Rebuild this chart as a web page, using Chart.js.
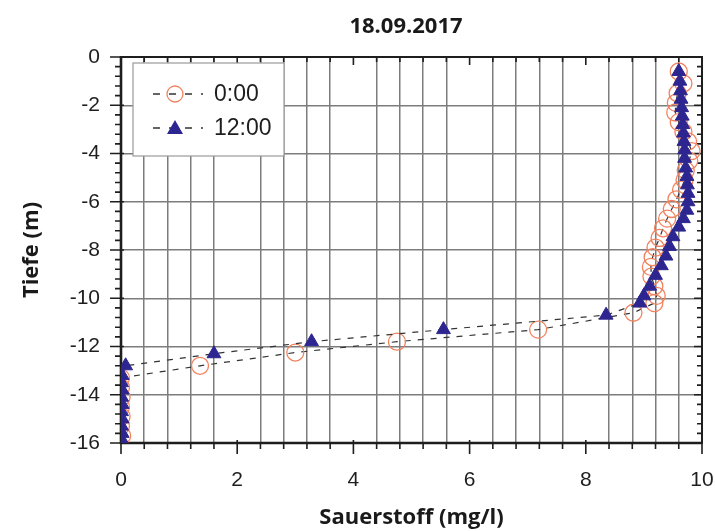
<!DOCTYPE html>
<html>
<head>
<meta charset="utf-8">
<script src="https://cdn.jsdelivr.net/npm/chart.js@4.4.1/dist/chart.umd.min.js"></script>
<style>
  html, body { margin: 0; padding: 0; background: #fff; }
  #wrap { width: 715px; height: 531px; position: relative; }
</style>
</head>
<body>
<div id="wrap"><canvas id="o2Chart" width="715" height="531"></canvas></div>
<script>
// data (depth in m, oxygen in mg/l)
const chartTitle = "18.09.2017";
const seriesNames = ["0:00", "12:00"];

const depth0000 = [-0.6, -1.1, -1.5, -1.9, -2.3, -2.7, -3.1, -3.5, -3.9, -4.3,
  -4.7, -5.1, -5.5, -5.9, -6.3, -6.7, -7.1, -7.5, -7.9, -8.3,
  -8.7, -9.1, -9.5, -9.9, -10.2, -10.6, -11.3, -11.8, -12.25, -12.8,
  -13.3, -13.7, -14.1, -14.5, -14.9, -15.3, -15.7];
const o2_0000 = [9.6, 9.68, 9.58, 9.55, 9.54, 9.6, 9.68, 9.76, 9.82, 9.78,
  9.72, 9.7, 9.64, 9.56, 9.48, 9.4, 9.33, 9.27, 9.2, 9.15,
  9.12, 9.13, 9.18, 9.22, 9.18, 8.82, 7.18, 4.75, 3.0, 1.36,
  0.0, 0.0, 0.01, 0.0, 0.01, 0.0, 0.02];

const depth1200 = [-0.6, -1.0, -1.4, -1.75, -2.1, -2.45, -2.8, -3.15, -3.5, -3.85,
  -4.2, -4.6, -4.95, -5.3, -5.65, -6.0, -6.35, -6.7, -7.05, -7.45,
  -7.85, -8.25, -8.65, -9.05, -9.5, -9.9, -10.2, -10.7, -11.3, -11.8,
  -12.3, -12.8, -13.2, -13.5, -13.8, -14.1, -14.4, -14.7, -15.0, -15.3,
  -15.6, -15.85];
const o2_1200 = [9.6, 9.62, 9.63, 9.64, 9.65, 9.66, 9.67, 9.68, 9.69, 9.7,
  9.7, 9.72, 9.74, 9.75, 9.76, 9.76, 9.74, 9.68, 9.6, 9.5,
  9.44, 9.38, 9.3, 9.2, 9.1, 9.0, 8.93, 8.35, 5.55, 3.28,
  1.6, 0.08, 0.02, 0.01, 0.02, 0.01, 0.02, 0.01, 0.02, 0.01,
  0.02, 0.01];

const xTicksMajor = [0, 2, 4, 6, 8, 10];
const yTicksMajor = [0, -2, -4, -6, -8, -10, -12, -14, -16];

// colours
const circleColor = "#f2825e";
const triColor = "#2d2690";
const lineColor = "#333333";
const gridColor = "#7c7c7c";
const labelFont = "'Liberation Sans'";
const titleFont = "'Open Sans'";

function isMajor(v){ return Math.abs(v/2 - Math.round(v/2)) < 1e-6; }
function toPoints(xs, ys){ return xs.map((x, i) => ({x: x, y: ys[i]})); }

// axis frame, tick marks, legend and title drawn by hand
const framePlugin = {
  id: "frame",
  beforeDatasetsDraw(chart){
    const {ctx, chartArea: a, scales} = chart;
    const xs = scales.x, ys = scales.y;
    ctx.save();
    ctx.strokeStyle = "#1e1e1e";
    // ticks
    ctx.lineWidth = 1.6;
    xs.ticks.forEach(t => {
      const px = xs.getPixelForValue(t.value);
      const maj = isMajor(t.value);
      ctx.beginPath();
      ctx.moveTo(px, a.bottom - (maj ? 3 : 0));
      ctx.lineTo(px, a.bottom + (maj ? 11 : 6));
      ctx.moveTo(px, a.top);
      ctx.lineTo(px, a.top + (maj ? 8 : 5));
      ctx.stroke();
    });
    ys.ticks.forEach(t => {
      const py = ys.getPixelForValue(t.value);
      const maj = isMajor(t.value);
      ctx.beginPath();
      ctx.moveTo(a.left + (maj ? 3 : 0), py);
      ctx.lineTo(a.left - (maj ? 11 : 6), py);
      ctx.moveTo(a.right, py);
      ctx.lineTo(a.right - (maj ? 8 : 5), py);
      ctx.stroke();
    });
    // box
    ctx.lineWidth = 2;
    ctx.strokeRect(a.left, a.top, a.right - a.left, a.bottom - a.top);
    ctx.lineWidth = 2.6;
    ctx.beginPath();
    ctx.moveTo(a.left, a.top - 1);
    ctx.lineTo(a.left, a.bottom);
    ctx.lineTo(a.right, a.bottom);
    ctx.stroke();
    ctx.restore();
  },
  afterDraw(chart){
    const {ctx} = chart;
    ctx.save();
    // title
    ctx.fillStyle = "#1a1a1a";
    ctx.font = "bold 22px " + titleFont;
    ctx.textAlign = "center";
    ctx.textBaseline = "middle";
    ctx.fillText(chartTitle, 406, 27);

    // legend box
    const bx = 133, by = 63, bw = 151, bh = 93;
    ctx.fillStyle = "#fff";
    ctx.fillRect(bx, by, bw, bh);
    ctx.strokeStyle = "#9a9a9a";
    ctx.lineWidth = 1.2;
    ctx.strokeRect(bx, by, bw, bh);

    const rows = [
      {y: 94, label: seriesNames[0], style: "circle"},
      {y: 128, label: seriesNames[1], style: "triangle"}
    ];
    rows.forEach(r => {
      ctx.strokeStyle = lineColor;
      ctx.lineWidth = 1.3;
      ctx.setLineDash([7, 9]);
      ctx.beginPath();
      ctx.moveTo(153, r.y);
      ctx.lineTo(203, r.y);
      ctx.stroke();
      ctx.setLineDash([]);
      if (r.style === "circle") {
        ctx.strokeStyle = circleColor;
        ctx.lineWidth = 1.3;
        ctx.beginPath();
        ctx.arc(175, r.y, 8, 0, Math.PI * 2);
        ctx.stroke();
      } else {
        ctx.fillStyle = triColor;
        ctx.beginPath();
        ctx.moveTo(175, r.y - 8);
        ctx.lineTo(183, r.y + 6);
        ctx.lineTo(167, r.y + 6);
        ctx.closePath();
        ctx.fill();
      }
      ctx.fillStyle = "#1e1e1e";
      ctx.font = "23px " + labelFont;
      ctx.textAlign = "left";
      ctx.textBaseline = "middle";
      ctx.fillText(r.label, 214, r.y + 1);
    });
    ctx.restore();
  }
};

const ctx = document.getElementById("o2Chart").getContext("2d");
const chart = new Chart(ctx, {
  type: "scatter",
  data: {
    datasets: [
      {
        label: seriesNames[1],
        data: toPoints(o2_1200, depth1200),
        showLine: true,
        borderColor: lineColor,
        borderWidth: 1.2,
        borderDash: [6, 7],
        pointStyle: "triangle",
        pointRadius: 8,
        pointBackgroundColor: triColor,
        pointBorderColor: triColor,
        pointBorderWidth: 1,
        order: 0
      },
      {
        label: seriesNames[0],
        data: toPoints(o2_0000, depth0000),
        showLine: true,
        borderColor: lineColor,
        borderWidth: 1.2,
        borderDash: [6, 7],
        pointStyle: "circle",
        pointRadius: 8.5,
        pointBackgroundColor: "rgba(0,0,0,0)",
        pointBorderColor: circleColor,
        pointBorderWidth: 1.3,
        order: 1
      }
    ]
  },
  options: {
    responsive: false,
    animation: false,
    layout: { padding: { left: 0, right: 13, top: 57, bottom: 0 } },
    plugins: {
      legend: { display: false },
      tooltip: { enabled: false }
    },
    scales: {
      x: {
        type: "linear",
        min: 0, max: 10,
        afterFit: s => { s.height = 88; },
        border: { display: false },
        grid: {
          drawTicks: true,
          tickLength: 25,
          tickColor: "rgba(0,0,0,0)",
          lineWidth: 1.5,
          color: c => (isMajor(c.tick.value) ? "rgba(0,0,0,0)" : gridColor)
        },
        ticks: {
          stepSize: 0.4,
          autoSkip: false,
          maxRotation: 0,
          padding: 0,
          color: "#1e1e1e",
          font: { size: 21, family: labelFont },
          callback: v => (xTicksMajor.includes(Math.round(v * 10) / 10) ? String(Math.round(v)) : "")
        },
        title: {
          display: true,
          text: "Sauerstoff (mg/l)",
          color: "#1a1a1a",
          font: { size: 22, weight: "bold", family: titleFont },
          padding: { top: 0, bottom: 0 }
        }
      },
      y: {
        type: "linear",
        min: -16, max: 0,
        afterFit: s => { s.width = 121; },
        border: { display: false },
        grid: {
          drawTicks: false,
          lineWidth: 1.5,
          color: c => {
            const v = c.tick.value;
            return (isMajor(v) && v !== 0 && v !== -16) ? gridColor : "rgba(0,0,0,0)";
          }
        },
        ticks: {
          stepSize: 0.4,
          autoSkip: false,
          padding: 21,
          color: "#1e1e1e",
          font: { size: 21, family: labelFont },
          callback: v => (yTicksMajor.includes(Math.round(v * 10) / 10) ? String(Math.round(v)) : "")
        },
        title: {
          display: true,
          text: "Tiefe (m)",
          color: "#1a1a1a",
          font: { size: 22, weight: "bold", family: titleFont },
          padding: { top: 19, bottom: 0 }
        }
      }
    }
  },
  plugins: [framePlugin]
});
</script>
</body>
</html>
